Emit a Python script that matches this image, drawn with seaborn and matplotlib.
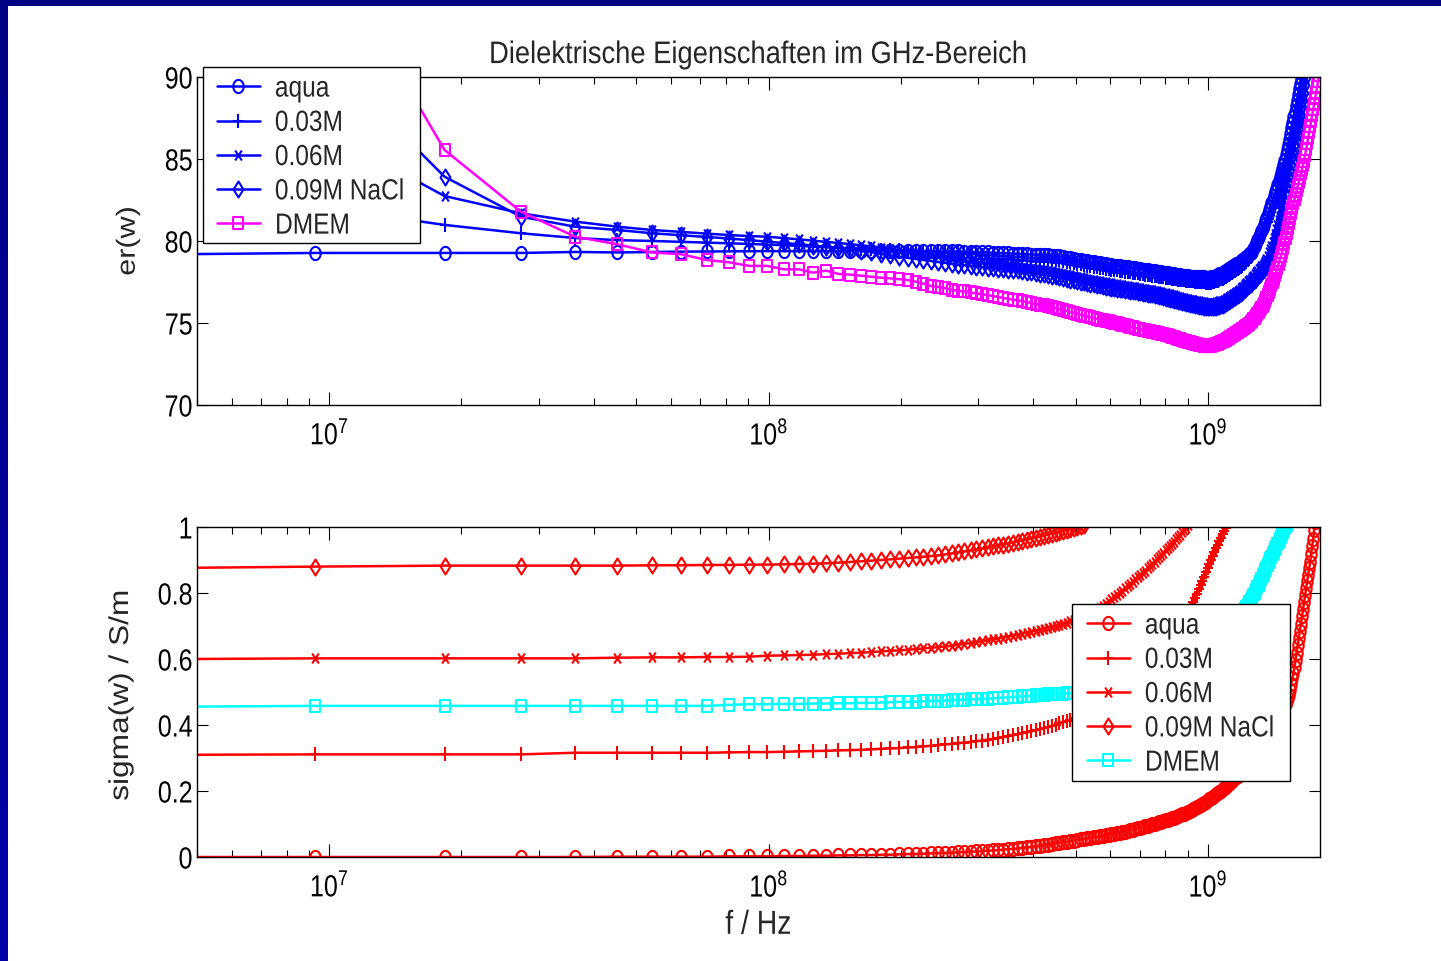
import numpy as np
import matplotlib
matplotlib.use("Agg")
import matplotlib.pyplot as plt
import matplotlib.ticker as tkr
from matplotlib.path import Path
from matplotlib.patches import Rectangle
from matplotlib.patheffects import AbstractPathEffect
from matplotlib.transforms import Affine2D
import seaborn as sns

nan = np.nan

# sweep points of the analyser, MHz
freq_mhz = [
    0.3, 9.3, 18.3, 27.3, 36.3, 45.3, 54.3, 63.3, 72.3, 81.3,
    90.3, 99.3, 108.3, 117.3, 126.3, 135.3, 144.3, 153.3, 162.3, 171.3,
    180.3, 189.3, 198.3, 207.3, 216.3, 225.3, 234.3, 243.3, 252.3, 261.3,
    270.3, 279.3, 288.3, 297.3, 306.3, 315.3, 324.3, 333.3, 342.3, 351.3,
    360.3, 369.3, 378.3, 387.3, 396.3, 405.3, 414.3, 423.3, 432.3, 441.3,
    450.3, 459.3, 468.3, 477.3, 486.3, 495.3, 504.3, 513.3, 522.3, 531.3,
    540.3, 549.3, 558.3, 567.3, 576.3, 585.3, 594.3, 603.3, 612.3, 621.3,
    630.3, 639.3, 648.3, 657.3, 666.3, 675.3, 684.3, 693.3, 702.3, 711.3,
    720.3, 729.3, 738.3, 747.3, 756.3, 765.3, 774.3, 783.3, 792.3, 801.3,
    810.3, 819.3, 828.3, 837.3, 846.3, 855.3, 864.3, 873.3, 882.3, 891.3,
    900.3, 909.3, 918.3, 927.3, 936.3, 945.3, 954.3, 963.3, 972.3, 981.3,
    990.3, 999.3, 1008.3, 1017.3, 1026.3, 1035.3, 1044.3, 1053.3, 1062.3, 1071.3,
    1080.3, 1089.3, 1098.3, 1107.3, 1116.3, 1125.3, 1134.3, 1143.3, 1152.3, 1161.3,
    1170.3, 1179.3, 1188.3, 1197.3, 1206.3, 1215.3, 1224.3, 1233.3, 1242.3, 1251.3,
    1260.3, 1269.3, 1278.3, 1287.3, 1296.3, 1305.3, 1314.3, 1323.3, 1332.3, 1341.3,
    1350.3, 1359.3, 1368.3, 1377.3, 1386.3, 1395.3, 1404.3, 1413.3, 1422.3, 1431.3,
    1440.3, 1449.3, 1458.3, 1467.3, 1476.3, 1485.3, 1494.3, 1503.3, 1512.3, 1521.3,
    1530.3, 1539.3, 1548.3, 1557.3, 1566.3, 1575.3, 1584.3, 1593.3, 1602.3, 1611.3,
    1620.3, 1629.3, 1638.3, 1647.3, 1656.3, 1665.3, 1674.3, 1683.3, 1692.3, 1701.3,
    1710.3, 1719.3, 1728.3, 1737.3, 1746.3, 1755.3, 1764.3, 1773.3, 1782.3, 1791.3,
    1800.3,
]

labels = ["aqua", "0.03M", "0.06M", "0.09M NaCl", "DMEM"]

# er(w)
er_aqua = [
    78.89, 79.27, 79.27, 79.27, 79.33, 79.30, 79.33, 79.35, 79.36, 79.37,
    79.38, 79.38, 79.38, 79.38, 79.38, 79.38, 79.38, 79.38, 79.37, 79.37,
    79.37, 79.37, 79.37, 79.37, 79.37, 79.37, 79.36, 79.36, 79.36, 79.36,
    79.36, 79.35, 79.34, 79.33, 79.32, 79.30, 79.29, 79.27, 79.26, 79.24,
    79.23, 79.22, 79.20, 79.19, 79.17, 79.16, 79.15, 79.13, 79.12, 79.10,
    79.09, 79.06, 79.02, 78.99, 78.95, 78.92, 78.87, 78.83, 78.78, 78.75,
    78.72, 78.69, 78.66, 78.63, 78.60, 78.57, 78.55, 78.53, 78.50, 78.48,
    78.46, 78.44, 78.42, 78.40, 78.37, 78.35, 78.33, 78.30, 78.27, 78.25,
    78.22, 78.20, 78.17, 78.15, 78.14, 78.12, 78.10, 78.08, 78.06, 78.04,
    78.02, 78.00, 77.98, 77.96, 77.94, 77.92, 77.90, 77.87, 77.86, 77.85,
    77.84, 77.83, 77.82, 77.81, 77.81, 77.80, 77.79, 77.79, 77.78, 77.78,
    77.77, 77.77, 77.76, 77.78, 77.80, 77.82, 77.86, 77.91, 77.96, 78.01,
    78.07, 78.12, 78.18, 78.24, 78.29, 78.35, 78.40, 78.46, 78.51, 78.57,
    78.62, 78.68, 78.75, 78.82, 78.88, 78.95, 79.03, 79.11, 79.19, 79.27,
    79.35, 79.52, 79.70, 79.88, 80.06, 80.24, 80.42, 80.60, 80.80, 81.00,
    81.20, 81.42, 81.64, 81.86, 82.08, 82.30, 82.52, 82.74, 82.96, 83.18,
    83.40, 83.65, 83.90, 84.15, 84.40, 84.65, 84.90, 85.22, 85.54, 85.86,
    86.18, 86.52, 86.86, 87.20, 87.54, 87.88, 88.22, 88.56, 88.90, 89.24,
    89.58, 89.92, 90.26,
]
er_003 = [
    nan, 82.10, 80.98, 80.47, 80.18, 80.05, 80.00, 79.95, 79.90, 79.86,
    79.82, 79.78, 79.74, 79.70, 79.66, 79.62, 79.58, 79.55, 79.52, 79.49,
    79.46, 79.44, 79.42, 79.40, 79.38, 79.36, 79.34, 79.32, 79.29, 79.27,
    79.25, 79.23, 79.21, 79.19, 79.17, 79.15, 79.13, 79.11, 79.09, 79.07,
    79.05, 79.03, 79.01, 78.99, 78.97, 78.95, 78.93, 78.91, 78.89, 78.87,
    78.85, 78.81, 78.77, 78.73, 78.69, 78.65, 78.61, 78.57, 78.53, 78.49,
    78.45, 78.42, 78.39, 78.37, 78.34, 78.31, 78.29, 78.26, 78.23, 78.21,
    78.18, 78.16, 78.13, 78.11, 78.09, 78.06, 78.04, 78.02, 77.99, 77.97,
    77.95, 77.93, 77.91, 77.89, 77.87, 77.85, 77.83, 77.81, 77.79, 77.77,
    77.75, 77.73, 77.71, 77.69, 77.67, 77.65, 77.63, 77.61, 77.59, 77.58,
    77.56, 77.55, 77.54, 77.53, 77.52, 77.51, 77.50, 77.49, 77.48, 77.47,
    77.46, 77.46, 77.45, 77.46, 77.48, 77.51, 77.54, 77.58, 77.62, 77.66,
    77.70, 77.75, 77.80, 77.85, 77.91, 77.97, 78.03, 78.09, 78.16, 78.22,
    78.29, 78.36, 78.43, 78.50, 78.58, 78.66, 78.74, 78.82, 78.91, 79.00,
    79.10, 79.26, 79.42, 79.58, 79.74, 79.90, 80.07, 80.24, 80.41, 80.58,
    80.76, 80.96, 81.16, 81.36, 81.56, 81.76, 81.98, 82.20, 82.42, 82.64,
    82.88, 83.13, 83.38, 83.63, 83.88, 84.14, 84.40, 84.70, 85.00, 85.30,
    85.62, 85.95, 86.28, 86.61, 86.94, 87.28, 87.62, 87.96, 88.30, 88.64,
    88.98, 89.32, 89.66, 90.00, 90.34,
]
er_006 = [
    nan, 87.00, 82.74, 81.69, 81.18, 80.87, 80.67, 80.55, 80.45, 80.36,
    80.30, 80.26, 80.18, 80.10, 80.02, 79.95, 79.88, 79.81, 79.74, 79.67,
    79.60, 79.52, 79.44, 79.37, 79.29, 79.22, 79.14, 79.07, 78.99, 78.92,
    78.85, 78.81, 78.77, 78.73, 78.69, 78.65, 78.61, 78.57, 78.53, 78.49,
    78.45, 78.42, 78.38, 78.35, 78.31, 78.28, 78.24, 78.21, 78.17, 78.14,
    78.10, 78.05, 78.01, 77.96, 77.92, 77.87, 77.83, 77.78, 77.74, 77.69,
    77.65, 77.62, 77.58, 77.55, 77.52, 77.48, 77.45, 77.42, 77.38, 77.35,
    77.32, 77.30, 77.27, 77.25, 77.22, 77.20, 77.17, 77.15, 77.12, 77.10,
    77.07, 77.04, 77.01, 76.98, 76.95, 76.92, 76.90, 76.87, 76.84, 76.81,
    76.78, 76.75, 76.71, 76.68, 76.65, 76.61, 76.58, 76.55, 76.51, 76.48,
    76.45, 76.43, 76.41, 76.38, 76.36, 76.34, 76.32, 76.29, 76.27, 76.25,
    76.23, 76.22, 76.21, 76.21, 76.22, 76.23, 76.25, 76.28, 76.31, 76.34,
    76.37, 76.42, 76.47, 76.53, 76.58, 76.64, 76.70, 76.76, 76.83, 76.89,
    76.95, 77.03, 77.11, 77.20, 77.28, 77.37, 77.45, 77.54, 77.62, 77.71,
    77.80, 77.89, 77.98, 78.08, 78.17, 78.27, 78.36, 78.46, 78.55, 78.65,
    78.75, 78.92, 79.10, 79.30, 79.50, 79.72, 79.95, 80.20, 80.45, 80.70,
    80.95, 81.25, 81.55, 81.87, 82.20, 82.53, 82.86, 83.20, 83.55, 83.90,
    84.25, 84.62, 84.99, 85.36, 85.73, 86.10, 86.47, 86.84, 87.21, 87.58,
    87.95, 88.35, 88.75, 89.15, 89.55, 89.95, 90.35,
]
er_009 = [
    nan, 91.80, 83.92, 81.48, 80.87, 80.67, 80.47, 80.35, 80.25, 80.15,
    80.05, 79.96, 79.88, 79.80, 79.72, 79.64, 79.56, 79.48, 79.40, 79.32,
    79.20, 79.12, 79.04, 78.97, 78.90, 78.84, 78.78, 78.72, 78.66, 78.61,
    78.56, 78.52, 78.48, 78.44, 78.41, 78.38, 78.35, 78.32, 78.29, 78.26,
    78.23, 78.20, 78.17, 78.13, 78.09, 78.05, 78.01, 77.97, 77.93, 77.89,
    77.85, 77.80, 77.75, 77.70, 77.65, 77.60, 77.56, 77.52, 77.48, 77.44,
    77.40, 77.36, 77.33, 77.29, 77.26, 77.22, 77.19, 77.16, 77.13, 77.10,
    77.07, 77.05, 77.02, 77.00, 76.97, 76.95, 76.92, 76.90, 76.87, 76.85,
    76.82, 76.79, 76.76, 76.74, 76.71, 76.68, 76.65, 76.62, 76.58, 76.55,
    76.52, 76.49, 76.45, 76.42, 76.38, 76.35, 76.32, 76.29, 76.26, 76.23,
    76.20, 76.18, 76.15, 76.13, 76.10, 76.08, 76.06, 76.04, 76.02, 76.00,
    75.98, 75.97, 75.96, 75.96, 75.96, 75.97, 75.99, 76.02, 76.05, 76.08,
    76.12, 76.17, 76.22, 76.27, 76.33, 76.38, 76.44, 76.50, 76.57, 76.63,
    76.70, 76.77, 76.84, 76.91, 76.99, 77.07, 77.15, 77.23, 77.31, 77.39,
    77.47, 77.55, 77.63, 77.72, 77.81, 77.90, 78.00, 78.10, 78.20, 78.30,
    78.40, 78.50, 78.62, 78.74, 78.86, 79.10, 79.35, 79.60, 79.90, 80.20,
    80.50, 80.75, 81.00, 81.35, 81.70, 82.05, 82.40, 82.75, 83.10, 83.45,
    83.80, 84.15, 84.50, 84.90, 85.30, 85.70, 86.10, 86.50, 86.90, 87.30,
    87.70, 88.15, 88.60, 89.05, 89.50, 89.95, 90.40,
]
er_dmem = [
    nan, 99.00, 85.55, 81.79, 80.26, 79.80, 79.30, 79.19, 78.84, 78.70,
    78.48, 78.48, 78.27, 78.27, 78.07, 78.19, 77.99, 77.95, 77.88, 77.82,
    77.76, 77.72, 77.67, 77.62, 77.52, 77.40, 77.25, 77.20, 77.12, 77.02,
    76.96, 76.92, 76.86, 76.80, 76.74, 76.70, 76.64, 76.58, 76.52, 76.47,
    76.42, 76.38, 76.33, 76.27, 76.22, 76.17, 76.12, 76.07, 76.02, 75.97,
    75.92, 75.86, 75.80, 75.74, 75.68, 75.62, 75.56, 75.50, 75.45, 75.40,
    75.35, 75.30, 75.25, 75.21, 75.17, 75.13, 75.09, 75.05, 75.01, 74.97,
    74.93, 74.89, 74.85, 74.81, 74.77, 74.73, 74.69, 74.65, 74.62, 74.59,
    74.56, 74.53, 74.50, 74.47, 74.44, 74.41, 74.38, 74.35, 74.32, 74.29,
    74.25, 74.21, 74.17, 74.13, 74.09, 74.05, 74.01, 73.97, 73.93, 73.89,
    73.85, 73.82, 73.79, 73.76, 73.73, 73.70, 73.68, 73.66, 73.64, 73.62,
    73.61, 73.60, 73.60, 73.61, 73.63, 73.66, 73.70, 73.74, 73.79, 73.84,
    73.89, 73.93, 73.98, 74.03, 74.08, 74.13, 74.19, 74.25, 74.31, 74.38,
    74.45, 74.51, 74.57, 74.63, 74.69, 74.75, 74.82, 74.89, 74.96, 75.03,
    75.12, 75.22, 75.32, 75.43, 75.54, 75.66, 75.78, 75.90, 76.03, 76.17,
    76.35, 76.53, 76.72, 76.91, 77.10, 77.30, 77.50, 77.70, 77.90, 78.10,
    78.35, 78.60, 78.85, 79.10, 79.35, 79.60, 79.90, 80.20, 80.50, 80.80,
    81.10, 81.40, 81.70, 82.00, 82.30, 82.56, 82.82, 83.08, 83.34, 83.60,
    83.86, 84.12, 84.38, 84.64, 84.90, 85.25, 85.60, 85.95, 86.30, 86.65,
    87.00, 87.34, 87.68, 88.02, 88.36, 88.70, 89.05, 89.40, 89.75, 90.10,
    90.45,
]

# sigma(w) in S/m
sig_aqua = [
    0.000, 0.000, 0.000, 0.000, 0.000, 0.001, 0.001, 0.001, 0.001, 0.002,
    0.002, 0.002, 0.003, 0.003, 0.004, 0.004, 0.005, 0.005, 0.006, 0.006,
    0.007, 0.007, 0.008, 0.009, 0.009, 0.010, 0.011, 0.012, 0.012, 0.013,
    0.014, 0.015, 0.016, 0.017, 0.018, 0.019, 0.020, 0.021, 0.022, 0.024,
    0.025, 0.026, 0.028, 0.029, 0.031, 0.032, 0.034, 0.036, 0.037, 0.039,
    0.041, 0.043, 0.045, 0.046, 0.048, 0.050, 0.052, 0.054, 0.055, 0.057,
    0.059, 0.060, 0.062, 0.063, 0.065, 0.066, 0.068, 0.069, 0.071, 0.072,
    0.074, 0.076, 0.077, 0.079, 0.081, 0.083, 0.085, 0.087, 0.089, 0.091,
    0.093, 0.095, 0.097, 0.099, 0.101, 0.103, 0.105, 0.107, 0.109, 0.111,
    0.113, 0.115, 0.117, 0.119, 0.121, 0.123, 0.126, 0.129, 0.131, 0.134,
    0.137, 0.140, 0.143, 0.146, 0.149, 0.152, 0.155, 0.158, 0.162, 0.165,
    0.168, 0.172, 0.175, 0.179, 0.182, 0.186, 0.190, 0.194, 0.197, 0.201,
    0.205, 0.209, 0.213, 0.217, 0.221, 0.225, 0.229, 0.233, 0.238, 0.242,
    0.246, 0.250, 0.255, 0.259, 0.264, 0.268, 0.273, 0.278, 0.282, 0.287,
    0.292, 0.297, 0.302, 0.308, 0.313, 0.318, 0.324, 0.329, 0.335, 0.340,
    0.346, 0.352, 0.358, 0.364, 0.370, 0.376, 0.382, 0.389, 0.395, 0.402,
    0.408, 0.415, 0.423, 0.430, 0.438, 0.446, 0.454, 0.463, 0.472, 0.481,
    0.490, 0.507, 0.524, 0.541, 0.558, 0.575, 0.597, 0.619, 0.641, 0.663,
    0.685, 0.707, 0.729, 0.751, 0.773, 0.795, 0.815, 0.835, 0.855, 0.875,
    0.895, 0.918, 0.941, 0.965, 0.990, 1.015,
]
sig_003 = [
    0.305, 0.311, 0.311, 0.311, 0.316, 0.316, 0.316, 0.316, 0.316, 0.317,
    0.318, 0.318, 0.319, 0.320, 0.321, 0.322, 0.323, 0.324, 0.325, 0.326,
    0.328, 0.329, 0.330, 0.332, 0.333, 0.335, 0.337, 0.339, 0.341, 0.343,
    0.345, 0.347, 0.349, 0.351, 0.353, 0.356, 0.358, 0.361, 0.363, 0.366,
    0.369, 0.372, 0.375, 0.378, 0.381, 0.384, 0.387, 0.391, 0.394, 0.397,
    0.401, 0.405, 0.408, 0.412, 0.416, 0.420, 0.425, 0.429, 0.433, 0.438,
    0.442, 0.447, 0.452, 0.457, 0.462, 0.467, 0.472, 0.477, 0.483, 0.488,
    0.494, 0.500, 0.506, 0.512, 0.518, 0.524, 0.530, 0.537, 0.543, 0.550,
    0.557, 0.564, 0.571, 0.578, 0.586, 0.594, 0.602, 0.610, 0.618, 0.627,
    0.636, 0.645, 0.654, 0.664, 0.674, 0.684, 0.694, 0.704, 0.714, 0.725,
    0.736, 0.748, 0.760, 0.772, 0.785, 0.798, 0.811, 0.824, 0.837, 0.850,
    0.863, 0.875, 0.887, 0.899, 0.911, 0.923, 0.935, 0.946, 0.957, 0.968,
    0.978, 0.988, 0.997, 1.006,
]
sig_006 = [
    0.592, 0.602, 0.602, 0.602, 0.602, 0.604, 0.605, 0.605, 0.606, 0.606,
    0.607, 0.610, 0.611, 0.612, 0.613, 0.615, 0.616, 0.618, 0.619, 0.621,
    0.623, 0.625, 0.626, 0.628, 0.630, 0.632, 0.634, 0.636, 0.638, 0.640,
    0.643, 0.646, 0.648, 0.651, 0.654, 0.657, 0.660, 0.662, 0.665, 0.668,
    0.671, 0.674, 0.677, 0.680, 0.683, 0.686, 0.688, 0.691, 0.694, 0.697,
    0.700, 0.703, 0.707, 0.710, 0.714, 0.717, 0.720, 0.724, 0.729, 0.734,
    0.740, 0.745, 0.751, 0.756, 0.762, 0.768, 0.774, 0.781, 0.787, 0.794,
    0.800, 0.807, 0.814, 0.820, 0.827, 0.834, 0.841, 0.848, 0.854, 0.861,
    0.868, 0.875, 0.882, 0.888, 0.895, 0.902, 0.909, 0.916, 0.922, 0.929,
    0.936, 0.943, 0.950, 0.956, 0.963, 0.970, 0.977, 0.984, 0.991, 0.998,
    1.005,
]
sig_009 = [
    0.861, 0.880, 0.883, 0.883, 0.883, 0.883, 0.884, 0.884, 0.885, 0.885,
    0.886, 0.886, 0.887, 0.888, 0.889, 0.890, 0.892, 0.894, 0.896, 0.898,
    0.900, 0.902, 0.904, 0.906, 0.908, 0.910, 0.912, 0.914, 0.917, 0.920,
    0.923, 0.926, 0.929, 0.932, 0.935, 0.938, 0.941, 0.944, 0.947, 0.950,
    0.953, 0.956, 0.959, 0.962, 0.965, 0.968, 0.971, 0.974, 0.977, 0.980,
    0.983, 0.986, 0.989, 0.992, 0.995, 0.998, 1.001, 1.004, 1.007,
]
sig_dmem = [
    0.446, 0.458, 0.458, 0.458, 0.458, 0.458, 0.458, 0.458, 0.458, 0.461,
    0.463, 0.463, 0.464, 0.464, 0.465, 0.465, 0.466, 0.466, 0.467, 0.467,
    0.468, 0.469, 0.470, 0.470, 0.471, 0.472, 0.473, 0.473, 0.474, 0.475,
    0.476, 0.477, 0.478, 0.478, 0.479, 0.480, 0.481, 0.482, 0.483, 0.484,
    0.485, 0.486, 0.487, 0.488, 0.489, 0.490, 0.491, 0.492, 0.493, 0.494,
    0.494, 0.495, 0.495, 0.496, 0.496, 0.497, 0.498, 0.500, 0.502, 0.503,
    0.505, 0.507, 0.509, 0.510, 0.512, 0.514, 0.516, 0.518, 0.520, 0.522,
    0.524, 0.526, 0.528, 0.531, 0.533, 0.535, 0.537, 0.540, 0.542, 0.545,
    0.547, 0.550, 0.552, 0.555, 0.557, 0.560, 0.563, 0.566, 0.568, 0.571,
    0.574, 0.577, 0.580, 0.583, 0.585, 0.588, 0.591, 0.595, 0.598, 0.601,
    0.605, 0.608, 0.612, 0.615, 0.619, 0.622, 0.626, 0.629, 0.633, 0.636,
    0.640, 0.644, 0.648, 0.651, 0.655, 0.659, 0.663, 0.667, 0.671, 0.675,
    0.680, 0.684, 0.688, 0.692, 0.696, 0.700, 0.705, 0.710, 0.715, 0.720,
    0.725, 0.730, 0.736, 0.741, 0.747, 0.752, 0.759, 0.765, 0.772, 0.778,
    0.785, 0.793, 0.801, 0.809, 0.817, 0.825, 0.834, 0.842, 0.851, 0.859,
    0.868, 0.876, 0.885, 0.893, 0.902, 0.910, 0.918, 0.925, 0.933, 0.940,
    0.948, 0.955, 0.963, 0.970, 0.978, 0.985, 0.993, 1.000, 1.007,
]

freq_hz = np.array(freq_mhz) * 1e6


class Squeeze(AbstractPathEffect):
    # the source picture is squashed sideways, so text gets a narrower look
    def __init__(self, sx=0.84, anchor="center"):
        super().__init__()
        self.sx = sx
        self.anchor = anchor

    def draw_path(self, renderer, gc, tpath, affine, rgbFace=None):
        ext = tpath.get_extents(affine)
        x0 = {"left": ext.x0, "right": ext.x1}.get(self.anchor, 0.5 * (ext.x0 + ext.x1))
        tr = Affine2D().translate(-x0, 0).scale(self.sx, 1).translate(x0, 0)
        renderer.draw_path(gc, tpath, affine + tr, rgbFace)


def marker_path(kind, w):
    # markers are taller than wide for the same reason
    if kind == "o":
        t = np.linspace(0, 2 * np.pi, 41)
        return Path(np.column_stack([w * np.cos(t), np.sin(t)]), closed=True)
    if kind == "s":
        return Path([(-w, -1), (w, -1), (w, 1), (-w, 1), (-w, -1)], closed=True)
    if kind == "d":
        return Path([(0, -1), (w, 0), (0, 1), (-w, 0), (0, -1)], closed=True)
    if kind == "+":
        return Path([(-w, 0), (w, 0), (0, -1), (0, 1)],
                    [Path.MOVETO, Path.LINETO, Path.MOVETO, Path.LINETO])
    return Path([(-w, -1), (w, 1), (-w, 1), (w, -1)],
                [Path.MOVETO, Path.LINETO, Path.MOVETO, Path.LINETO])


markers = [marker_path("o", 0.79), marker_path("+", 0.68), marker_path("x", 0.67),
           marker_path("d", 0.62), marker_path("s", 0.81)]
msizes = [9.5, 10, 7.2, 11.5, 9.2]

sns.set_style("ticks")
plt.rcParams["font.family"] = ["Liberation Sans", "DejaVu Sans"]
plt.rcParams["mathtext.fontset"] = "custom"
plt.rcParams["mathtext.rm"] = "Liberation Sans"
plt.rcParams["mathtext.it"] = "Liberation Sans"

fig = plt.figure(figsize=(14.41, 9.61), dpi=100)
fig.patch.set_facecolor("white")
ax1 = fig.add_axes([0.1367, 0.5786, 0.7793, 0.3413])
ax2 = fig.add_axes([0.1367, 0.1082, 0.7793, 0.3434])


def draw(ax, series, colors):
    handles = []
    for vals, lab, col, mk, ms in zip(series, labels, colors, markers, msizes):
        sns.lineplot(x=freq_hz[:len(vals)], y=vals, ax=ax, color=col, marker=mk,
                     markersize=ms, markerfacecolor="none", markeredgecolor=col,
                     markeredgewidth=1.5, linewidth=1.8, label=lab, legend=False,
                     sort=False, errorbar=None)
        handles.append(ax.lines[-1])
    return handles


h1 = draw(ax1, [er_aqua, er_003, er_006, er_009, er_dmem],
          ["#0000ff"] * 4 + ["#ff00ff"])
h2 = draw(ax2, [sig_aqua, sig_003, sig_006, sig_009, sig_dmem],
          ["#ff0000"] * 4 + ["#00ffff"])

for ax in (ax1, ax2):
    ax.set_xscale("log")
    ax.set_xlim(5e6, 1.8e9)
    ax.xaxis.set_major_locator(tkr.LogLocator(base=10, numticks=10))
    ax.xaxis.set_minor_locator(tkr.LogLocator(base=10, subs=np.arange(2, 10), numticks=20))
    ax.xaxis.set_minor_formatter(tkr.NullFormatter())
    ax.xaxis.set_major_formatter(
        tkr.FuncFormatter(lambda v, p: r"$\mathrm{10^{%d}}$" % round(np.log10(v))))
    ax.tick_params(which="both", direction="in", top=True, right=True, width=0.8, colors="black")
    ax.tick_params(axis="x", which="major", length=9.3, pad=11, labelsize=22)
    ax.tick_params(axis="x", which="minor", length=5)
    ax.tick_params(axis="y", which="major", length=7.7, pad=3, labelsize=22)
    ax.set_xlabel("")
    ax.set_ylabel("")
    for sp in ax.spines.values():
        sp.set_visible(True)
        sp.set_linewidth(1.0)
        sp.set_color("black")

ax1.set_ylim(70, 90)
ax1.set_yticks([70, 75, 80, 85, 90])
ax2.set_ylim(0, 1)
ax2.set_yticks([0, 0.2, 0.4, 0.6, 0.8, 1])
ax2.yaxis.set_major_formatter(tkr.FuncFormatter(lambda v, p: format(v, "g")))

ax1.set_title("Dielektrische Eigenschaften im GHz-Bereich", fontsize=22.5, pad=10)
ax1.set_ylabel("er(w)", fontsize=22)
ax1.yaxis.set_label_coords(-0.05, 0.5)
ax2.set_ylabel("sigma(w) / S/m", fontsize=22.8)
ax2.yaxis.set_label_coords(-0.056, 0.49)
ax2.set_xlabel("f / Hz", fontsize=24)
ax2.xaxis.set_label_coords(0.5, -0.16)

leg_kw = dict(loc="upper left", borderaxespad=0, fontsize=21, frameon=False,
              handlelength=1.47, handletextpad=0.51, labelspacing=0.215,
              borderpad=0.26, numpoints=1)
leg1 = ax1.legend(h1, labels, bbox_to_anchor=(0.0110, 1.0305), **leg_kw)
leg2 = ax2.legend(h2, labels, bbox_to_anchor=(0.7857, 0.7667), **leg_kw)
leg1.set_zorder(20)
leg2.set_zorder(20)

# legend boxes, sized after the original
ax1.add_patch(Rectangle((0.00534, 0.4939), 0.1932, 0.5366, transform=ax1.transAxes,
                        facecolor="white", edgecolor="black", lw=1.0, zorder=19, clip_on=False))
ax2.add_patch(Rectangle((0.7792, 0.2303), 0.1941, 0.5364, transform=ax2.transAxes,
                        facecolor="white", edgecolor="black", lw=1.0, zorder=19, clip_on=False))

# blue slide border along the top and the left
top_col = (0.0, 0.0, 0.52)
fig.add_artist(Rectangle((0, 1 - 6 / 961), 1, 6 / 961, transform=fig.transFigure,
                         facecolor=top_col, edgecolor="none", zorder=30))
bax = fig.add_axes([0, 0, 8 / 1441, 1 - 6 / 961], zorder=30)
grad = np.linspace(0.52, 0.66, 64)
bax.imshow(np.stack([np.zeros_like(grad), np.zeros_like(grad), grad], axis=-1)[::-1, None, :],
           aspect="auto", extent=(0, 1, 0, 1), origin="lower")
bax.set_axis_off()

fig.canvas.draw()
for ax in (ax1, ax2):
    for t in ax.get_xticklabels():
        t.set_path_effects([Squeeze(0.82, "center")])
    for t in ax.get_yticklabels():
        t.set_path_effects([Squeeze(0.82, "right")])
    ax.yaxis.label.set_path_effects([Squeeze(0.86, "right")])
ax1.title.set_path_effects([Squeeze(0.875, "center")])
ax2.xaxis.label.set_path_effects([Squeeze(0.85, "center")])
for leg in (leg1, leg2):
    for t in leg.get_texts():
        t.set_path_effects([Squeeze(0.84, "left")])

fig.savefig("out.png", dpi=100)
